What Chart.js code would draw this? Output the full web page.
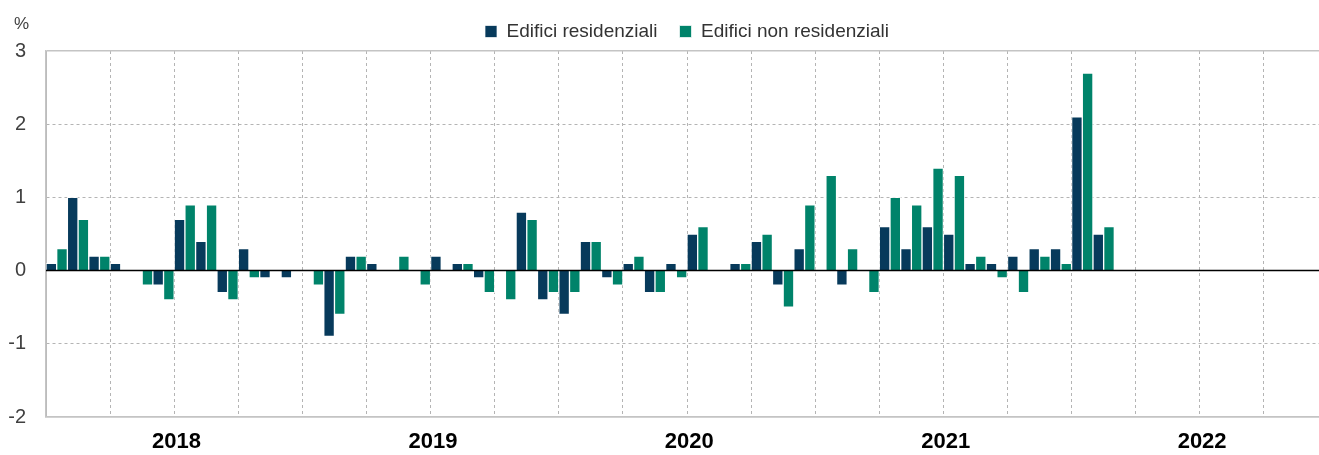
<!DOCTYPE html>
<html>
<head>
<meta charset="utf-8">
<script src="https://cdn.jsdelivr.net/npm/chart.js@4"></script>
<style>
  html, body { margin: 0; padding: 0; background: #fff; overflow: hidden; }
</style>
</head>
<body>
<canvas id="chart" width="1360" height="455"></canvas>
<script>
// years and months shown on the category axis
const years = ['2018', '2019', '2020', '2021', '2022'];
const months = ['gen', 'feb', 'mar', 'apr', 'mag', 'giu', 'lug', 'ago', 'set', 'ott', 'nov', 'dic'];
const yTicks = [-2, -1, 0, 1, 2, 3];

// monthly values, Jan 2018 - Feb 2022
const residenziali = [
    0.1, 1.0, 0.2, 0.1, 0, -0.2, 0.7, 0.4, -0.3, 0.3, -0.1, -0.1,
    0, -0.9, 0.2, 0.1, 0, 0, 0.2, 0.1, -0.1, 0, 0.8, -0.4,
    -0.6, 0.4, -0.1, 0.1, -0.3, 0.1, 0.5, 0, 0.1, 0.4, -0.2, 0.3,
    0, -0.2, 0, 0.6, 0.3, 0.6, 0.5, 0.1, 0.1, 0.2, 0.3, 0.3,
    2.1, 0.5
];
const nonResidenziali = [
    0.3, 0.7, 0.2, 0, -0.2, -0.4, 0.9, 0.9, -0.4, -0.1, 0, 0,
    -0.2, -0.6, 0.2, 0, 0.2, -0.2, 0, 0.1, -0.3, -0.4, 0.7, -0.3,
    -0.3, 0.4, -0.2, 0.2, -0.3, -0.1, 0.6, 0, 0.1, 0.5, -0.5, 0.9,
    1.3, 0.3, -0.3, 1.0, 0.9, 1.4, 1.3, 0.2, -0.1, -0.3, 0.2, 0.1,
    2.7, 0.6
];

const labels = years.flatMap(y => months.map(m => m + ' ' + y));

const font = '"Liberation Sans", Arial, sans-serif';
const gridColor = '#b4b4b4';
const frameColor = '#c4c4c4';

// zero line on top of the bars, and the "%" unit above the y axis
const extras = {
    id: 'extras',
    afterDatasetsDraw(chart) {
        const { ctx, chartArea, scales } = chart;
        const y0 = scales.y.getPixelForValue(0);
        ctx.save();
        ctx.strokeStyle = '#000';
        ctx.lineWidth = 1.5;
        ctx.beginPath();
        ctx.moveTo(chartArea.left, y0);
        ctx.lineTo(chartArea.right, y0);
        ctx.stroke();
        ctx.fillStyle = '#404040';
        ctx.font = '17px ' + font;
        ctx.textAlign = 'right';
        ctx.textBaseline = 'middle';
        ctx.fillText('%', chartArea.left - 17, 24);
        ctx.restore();
    }
};

const isFrame = (ctx) => ctx.tick && (ctx.tick.value === 3 || ctx.tick.value === -2);

new Chart(document.getElementById('chart'), {
    type: 'bar',
    data: {
        labels: labels,
        datasets: [{
            label: 'Edifici residenziali',
            data: residenziali,
            backgroundColor: '#073a5b',
            borderColor: 'rgba(255,255,255,0.7)',
            borderWidth: 1,
        }, {
            label: 'Edifici non residenziali',
            data: nonResidenziali,
            backgroundColor: '#00836a',
            borderColor: 'rgba(255,255,255,0.7)',
            borderWidth: 1,
        }],
    },
    options: {
        responsive: false,
        animation: false,
        layout: { padding: { left: 0, right: 32, top: 0, bottom: 0 } },
        datasets: {
            bar: { categoryPercentage: 1, barPercentage: 1 },
        },
        plugins: {
            legend: {
                position: 'top',
                fullSize: false,
                labels: {
                    color: '#333',
                    font: { family: font, size: 19 },
                    boxWidth: 12,
                    boxHeight: 12,
                    padding: 22,
                },
            },
            tooltip: { enabled: false },
        },
        scales: {
            x: {
                afterFit: (scale) => { scale.height = 38; },
                grid: {
                    offset: true,
                    drawTicks: false,
                    color: (ctx) => ctx.index % 3 === 0 ? gridColor : 'transparent',
                    lineWidth: 1,
                },
                border: {
                    display: true,
                    color: frameColor,
                    width: 1.5,
                    dash: (ctx) => ctx.index === 0 ? [] : [3, 3],
                },
                ticks: {
                    autoSkip: false,
                    maxRotation: 0,
                    minRotation: 0,
                    padding: 12,
                    labelOffset: 13,
                    color: '#000',
                    font: { family: font, size: 22, weight: 'bold' },
                    callback: function (value, index) {
                        return index % 12 === 5 ? this.getLabelForValue(value).slice(-4) : '';
                    },
                },
            },
            y: {
                min: yTicks[0],
                max: yTicks[yTicks.length - 1],
                afterFit: (scale) => { scale.width = 46; },
                afterBuildTicks: (scale) => { scale.ticks = yTicks.map(v => ({ value: v })); },
                grid: {
                    drawTicks: false,
                    color: (ctx) => ctx.tick && ctx.tick.value === 0 ? 'transparent'
                        : (isFrame(ctx) ? frameColor : gridColor),
                    lineWidth: (ctx) => isFrame(ctx) ? 1.5 : 1,
                },
                border: {
                    display: true,
                    color: frameColor,
                    width: 1.5,
                    dash: (ctx) => isFrame(ctx) ? [] : [3, 3],
                },
                ticks: {
                    padding: 20,
                    color: '#404040',
                    font: { family: font, size: 20 },
                },
            },
        },
    },
    plugins: [extras],
});
</script>
</body>
</html>
